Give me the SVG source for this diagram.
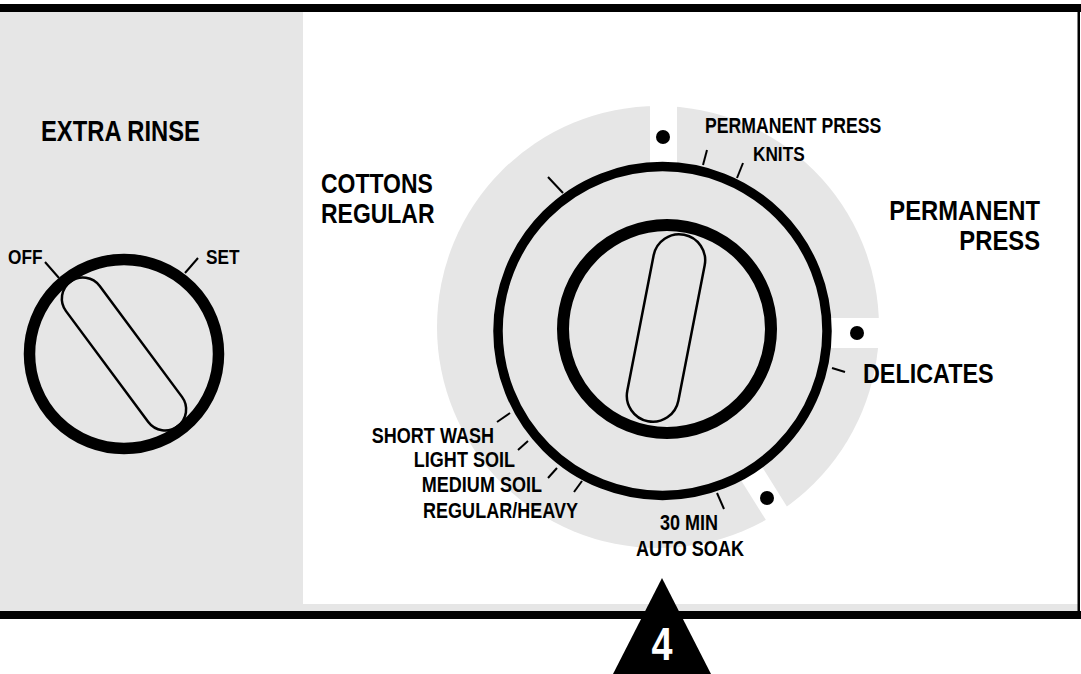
<svg xmlns="http://www.w3.org/2000/svg" width="1081" height="674" viewBox="0 0 1081 674">
<style>
.t{font-family:"Liberation Sans",Arial,sans-serif;font-weight:bold;fill:#000}
.tk{stroke:#000;stroke-width:2;stroke-linecap:butt;fill:none}
.ring{fill:none;stroke:#000}
.slot{fill:none;stroke:#000;stroke-width:2.5}
.g{fill:#e6e6e6}
</style>
<rect x="0" y="0" width="1081" height="674" fill="#fff"/>
<g id="panel">
<rect class="g" x="0" y="12" width="303" height="599"/>
<rect class="g" x="303" y="604" width="775" height="7"/>
<rect x="0" y="4" width="1081" height="8" fill="#000"/>
<rect x="1077.5" y="4" width="2.5" height="615" fill="#000"/>
<rect x="0" y="611" width="1081" height="8" fill="#000"/>
</g>
<g id="extra-rinse-knob">
<text class="t" transform="translate(41,141) scale(0.82,1)" font-size="29">EXTRA RINSE</text>
<circle class="ring" cx="124" cy="354" r="94.5" stroke-width="11.5"/>
<rect class="slot" x="-90" y="-21" width="180" height="42" rx="21" transform="translate(124,354) rotate(53.4)"/>
<text class="t" transform="translate(8,264) scale(0.82,1)" font-size="21">OFF</text>
<text class="t" transform="translate(206,264) scale(0.82,1)" font-size="21">SET</text>
</g>
<g id="cycle-dial">
<circle class="g" cx="658" cy="327" r="221"/>
<rect x="650" y="60" width="27" height="120" fill="#fff"/>
<rect x="800" y="318" width="120" height="30" fill="#fff"/>
<rect x="140" y="-12.5" width="130" height="25" fill="#fff" transform="translate(662.5,331) rotate(58)"/>
<circle class="g" cx="662.5" cy="331" r="165"/>
<circle class="ring" cx="662.5" cy="331" r="164.5" stroke-width="9.5"/>
<circle class="ring" cx="667" cy="329" r="104" stroke-width="12"/>
<rect class="slot" x="-26" y="-95" width="52" height="190" rx="26" transform="translate(666,328) rotate(11)"/>
<circle cx="663" cy="137" r="7"/>
<circle cx="857" cy="333" r="7"/>
<circle cx="767" cy="498" r="7"/>
</g>
<g id="connectors">
<line class="tk" x1="45" y1="262" x2="59" y2="278"/>
<line class="tk" x1="198" y1="258" x2="185" y2="273"/>
<line class="tk" x1="548" y1="177" x2="563" y2="193"/>
<line class="tk" x1="707" y1="150" x2="703" y2="165"/>
<line class="tk" x1="743" y1="163" x2="737" y2="178"/>
<line class="tk" x1="832" y1="368" x2="845" y2="372"/>
<line class="tk" x1="497" y1="422" x2="510" y2="413"/>
<line class="tk" x1="518" y1="450" x2="528" y2="441"/>
<line class="tk" x1="548" y1="478" x2="557" y2="468"/>
<line class="tk" x1="574" y1="492" x2="582" y2="481"/>
<line class="tk" x1="717" y1="493" x2="724" y2="509"/>
</g>
<g id="label-cottons">
<text class="t" transform="translate(321,193) scale(0.82,1)" font-size="28">COTTONS</text>
<text class="t" transform="translate(321,223) scale(0.82,1)" font-size="28">REGULAR</text>
</g>
<g id="label-pp-knits">
<text class="t" transform="translate(705,133) scale(0.82,1)" font-size="21.5">PERMANENT PRESS</text>
<text class="t" transform="translate(753,161) scale(0.82,1)" font-size="21">KNITS</text>
</g>
<g id="label-permanent-press">
<text class="t" transform="translate(1040,220) scale(0.85,1)" font-size="28" text-anchor="end">PERMANENT</text>
<text class="t" transform="translate(1040,250) scale(0.85,1)" font-size="28" text-anchor="end">PRESS</text>
</g>
<g id="label-delicates">
<text class="t" transform="translate(863,383) scale(0.82,1)" font-size="28.5">DELICATES</text>
</g>
<g id="label-soil">
<text class="t" transform="translate(494,443) scale(0.82,1)" font-size="22" text-anchor="end">SHORT WASH</text>
<text class="t" transform="translate(515,467) scale(0.82,1)" font-size="22" text-anchor="end">LIGHT SOIL</text>
<text class="t" transform="translate(542,492) scale(0.82,1)" font-size="22" text-anchor="end">MEDIUM SOIL</text>
<text class="t" transform="translate(578,518) scale(0.82,1)" font-size="22" text-anchor="end">REGULAR/HEAVY</text>
</g>
<g id="label-soak">
<text class="t" transform="translate(689,530) scale(0.82,1)" font-size="22" text-anchor="middle">30 MIN</text>
<text class="t" transform="translate(690,556) scale(0.82,1)" font-size="22" text-anchor="middle">AUTO SOAK</text>
</g>
<g id="step-marker">
<polygon points="662,578 711,674 613,674" fill="#000"/>
<text transform="translate(662,660) scale(0.82,1)" font-size="46" text-anchor="middle" class="t" style="fill:#fff">4</text>
</g>
</svg>
